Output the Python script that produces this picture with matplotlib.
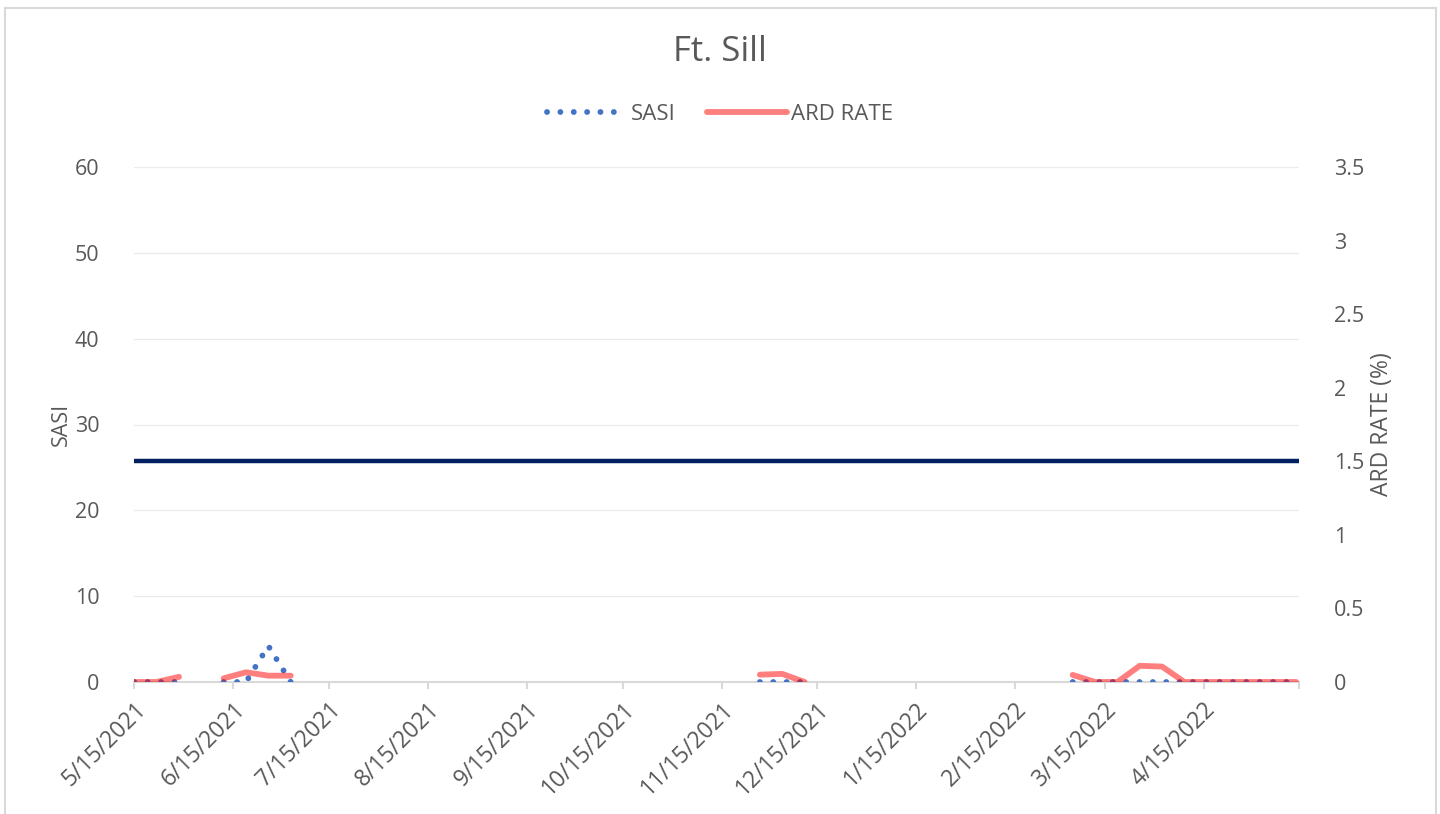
"""Ft. Sill chart: SASI and ARD rate by week"""
import numpy as np
import pandas as pd
import matplotlib
matplotlib.use("Agg")
import matplotlib.pyplot as plt
from matplotlib.patches import Rectangle

plt.rcParams['font.family'] = ['Open Sans', 'DejaVu Sans']

# weekly data, nan marks a break in the line
week_dates = ['2021-05-15', '2021-05-22', '2021-05-29', '2021-06-05',
              '2021-06-12', '2021-06-19', '2021-06-26', '2021-07-03', '2021-07-10',
              '2021-11-27', '2021-12-04', '2021-12-11', '2021-12-18',
              '2022-03-05', '2022-03-12', '2022-03-19', '2022-03-26', '2022-04-02',
              '2022-04-09', '2022-04-16', '2022-04-23', '2022-04-30', '2022-05-07',
              '2022-05-14']
sasi = [0, 0, 0, np.nan,
        0, 0, 4.2, 0, np.nan,
        0, 0, 0, np.nan,
        0, 0, 0, 0, 0, 0, 0, 0, 0, 0, 0]
ard_rate = [0, 0, 0.035, np.nan,
            0.025, 0.066, 0.043, 0.043, np.nan,
            0.05, 0.055, 0, np.nan,
            0.048, 0, 0, 0.11, 0.105, 0, 0, 0, 0, 0, 0]
ard_threshold = 1.5

tick_dates = ['2021-05-15', '2021-06-15', '2021-07-15', '2021-08-15', '2021-09-15',
              '2021-10-15', '2021-11-15', '2021-12-15', '2022-01-15', '2022-02-15',
              '2022-03-15', '2022-04-15', '2022-05-15']
tick_labels = ['5/15/2021', '6/15/2021', '7/15/2021', '8/15/2021', '9/15/2021',
               '10/15/2021', '11/15/2021', '12/15/2021', '1/15/2022', '2/15/2022',
               '3/15/2022', '4/15/2022', '']

x = pd.to_datetime(week_dates)
ticks = pd.to_datetime(tick_dates)

W, H = 1440, 814
fig = plt.figure(figsize=(W / 100, H / 100), dpi=100)
fig.patches.append(Rectangle((5 / W, -0.05), 1431 / W, 1.05 - 8 / H,
                             transform=fig.transFigure, fill=False,
                             edgecolor='#D9D9D9', linewidth=1.5))

ax = fig.add_axes([134.3 / W, (H - 682) / H, (1299.3 - 134.3) / W, 515 / H])
ax2 = ax.twinx()

text_col = '#595959'

sasi_line, = ax.plot(x, sasi, color='#4472C4', linewidth=4.2,
                     linestyle=(0, (0.01, 2.28)), dash_capstyle='round',
                     label='SASI', zorder=3)
ax2.axhline(ard_threshold, color='#002060', linewidth=3.2, solid_capstyle='round')
ard_line, = ax2.plot(x, ard_rate, color='#FF0000', alpha=0.5, linewidth=4.2,
                     solid_capstyle='round', label='ARD RATE')

ax.set_xlim(ticks[0], ticks[-1])
ax.set_ylim(0, 60)
ax2.set_ylim(0, 3.5)
ax.set_yticks(np.arange(0, 61, 10))
ax2.set_yticks(np.arange(0, 3.51, 0.5))
ax2.set_yticklabels(['0', '0.5', '1', '1.5', '2', '2.5', '3', '3.5'])

ax.set_xticks(ticks)
ax.set_xticklabels(tick_labels, rotation=45, ha='right', rotation_mode='anchor')
ax.tick_params(axis='x', length=5, width=1.5, color='#D9D9D9', labelsize=16.5,
               labelcolor=text_col, pad=6)
ax.tick_params(axis='y', length=0, labelsize=15.5, labelcolor=text_col, pad=25)
ax2.tick_params(axis='y', length=0, labelsize=15.5, labelcolor=text_col, pad=25)

ax.grid(axis='y', color='#EBEBEB', linewidth=1)
ax.set_axisbelow(True)
for a in (ax, ax2):
    for side in ('top', 'left', 'right', 'bottom'):
        a.spines[side].set_visible(False)
ax.spines['bottom'].set_visible(True)
ax.spines['bottom'].set_color('#D9D9D9')
ax.spines['bottom'].set_linewidth(1.5)

ax.set_ylabel('SASI', fontsize=15.5, color=text_col, labelpad=2)
ax2.set_ylabel('ARD RATE (%)', fontsize=16.5, color=text_col, labelpad=4)

fig.text(0.5, 1 - 52 / H, 'Ft. Sill', ha='center', va='center', fontsize=25,
         color=text_col)

fig.legend([sasi_line, ard_line], ['SASI', 'ARD RATE'], loc='center',
           bbox_to_anchor=(0.5, 1 - 114 / H), ncol=2, frameon=False,
           fontsize=16, labelcolor=text_col, handlelength=3.6,
           handletextpad=0.2, columnspacing=1.4)

fig.savefig('out.png', dpi=100)
